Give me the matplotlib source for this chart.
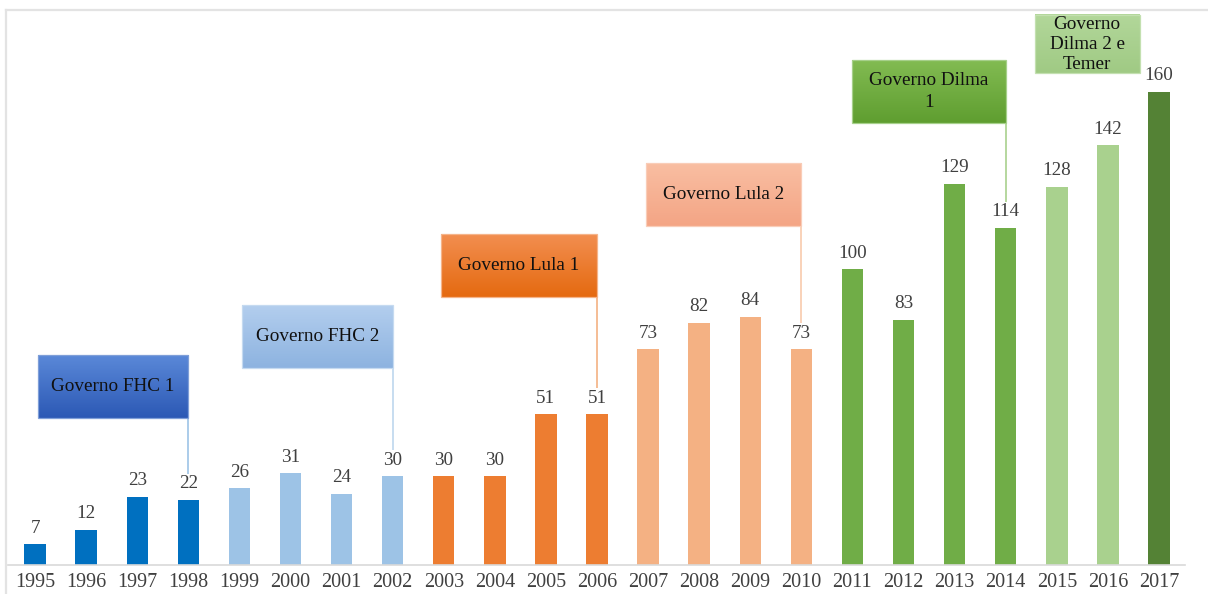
import matplotlib
matplotlib.use("Agg")
import matplotlib.pyplot as plt
import numpy as np
from matplotlib.colors import LinearSegmentedColormap
from matplotlib.patches import Rectangle
from matplotlib.lines import Line2D

# ---------------- data ----------------
years = [str(y) for y in range(1995, 2018)]
values = [7, 12, 23, 22, 26, 31, 24, 30, 30, 30, 51, 51,
          73, 82, 84, 73, 100, 83, 129, 114, 128, 142, 160]
governos = ["FHC1"] * 4 + ["FHC2"] * 4 + ["Lula1"] * 4 + ["Lula2"] * 4 + \
           ["Dilma1"] * 4 + ["Dilma2"] * 2 + ["Temer"]

bar_colors = {
    "FHC1": "#0070C0", "FHC2": "#9DC3E6", "Lula1": "#ED7D31",
    "Lula2": "#F4B183", "Dilma1": "#70AD47", "Dilma2": "#A9D18E",
    "Temer": "#548235",
}

# callout boxes: label, year the line points to, box top (data), box width (cats),
# gradient top/bottom, line colour
box_labels = ["Governo FHC 1", "Governo FHC 2", "Governo Lula 1",
              "Governo Lula 2", "Governo Dilma\n1", "Governo\nDilma 2 e\nTemer"]
box_years = ["1998", "2002", "2006", "2010", "2014", None]
box_tops = [71, 88, 112, 136, 170.8, 186.1]
box_widths = [2.95, 2.95, 3.05, 3.05, 3.0, 2.05]
box_heights = [21.3, 21.3, 21.3, 21.3, 21.3, 19.8]
box_linespacing = [1.0, 1.0, 1.0, 1.0, 1.4, 1.22]
box_right_dilma2 = 21.62
box_grad = [("#5A88D8", "#2C59B5"), ("#B3CEEE", "#8DB3E0"),
            ("#F28E50", "#E56A10"), ("#F9BEA2", "#F4A585"),
            ("#82BB52", "#5F9E30"), ("#B2D79A", "#A0CA84")]
box_edges = ["#7F9FD8", "#C5DAF0", "#F5B48A", "#F9CDB8", "#A6D08A", "#C3E0B0"]
line_colors = ["#9DC3E6", "#BDD7EE", "#F4B183", "#F8CBAD", "#A9D18E", None]

# ---------------- figure ----------------
plt.rcParams["font.family"] = ["Liberation Serif", "DejaVu Serif"]
W, H = 1208, 594
fig = plt.figure(figsize=(W / 100, H / 100), dpi=100)
ax = fig.add_axes([8 / W, 29 / H, 1177 / W, 556 / H])

x = np.arange(len(years))
ax.bar(x, values, width=0.42, color=[bar_colors[g] for g in governos], zorder=2)

for xi, v in zip(x, values):
    ax.annotate(str(v), (xi, v), xytext=(0, 5.5), textcoords="offset points",
                ha="center", va="bottom", fontsize=13.8, color="#404040")

ax.set_xlim(-0.53, 22.51)
ax.set_ylim(0, 188.1)
ax.set_xticks(x)
ax.set_xticklabels(years, fontsize=14.5, color="#404040")
ax.tick_params(axis="x", length=0, pad=6)
ax.set_yticks([])
for s in ["top", "right", "left"]:
    ax.spines[s].set_visible(False)
ax.spines["bottom"].set_color("#D9D9D9")
ax.spines["bottom"].set_linewidth(1.2)

# callouts
for i, lab in enumerate(box_labels):
    top = box_tops[i]
    h = box_heights[i]
    w = box_widths[i]
    if box_years[i] is not None:
        xr = years.index(box_years[i])
    else:
        xr = box_right_dilma2
    xl = xr - w
    bottom = top - h
    cmap = LinearSegmentedColormap.from_list("g", [box_grad[i][1], box_grad[i][0]])
    grad = np.linspace(0, 1, 64).reshape(-1, 1)
    ax.imshow(grad, extent=(xl, xr, bottom, top), origin="lower", cmap=cmap,
              aspect="auto", zorder=3, interpolation="bicubic")
    ax.add_patch(Rectangle((xl, bottom), w, h, fill=False, edgecolor=box_edges[i],
                           lw=0.9, zorder=4))
    ax.text((xl + xr) / 2, (bottom + top) / 2, lab, ha="center", va="center",
            fontsize=13.8, color="#111111", zorder=5,
            linespacing=box_linespacing[i])
    if box_years[i] is not None:
        idx = years.index(box_years[i])
        ax.plot([xr, xr], [bottom, values[idx] + 8.8], color=line_colors[i],
                lw=1.2, zorder=3, solid_capstyle="butt")

ax.set_xlim(-0.53, 22.51)
ax.set_ylim(0, 188.1)

# outer frame (top and left)
fig.add_artist(Line2D([6 / W, 1.0], [1 - 10 / H, 1 - 10 / H], color="#E3E3E3",
                      lw=1.6, transform=fig.transFigure))
fig.add_artist(Line2D([6 / W, 6 / W], [0, 1 - 10 / H], color="#E3E3E3",
                      lw=1.6, transform=fig.transFigure))

fig.savefig("out.png", dpi=100, facecolor="white")
